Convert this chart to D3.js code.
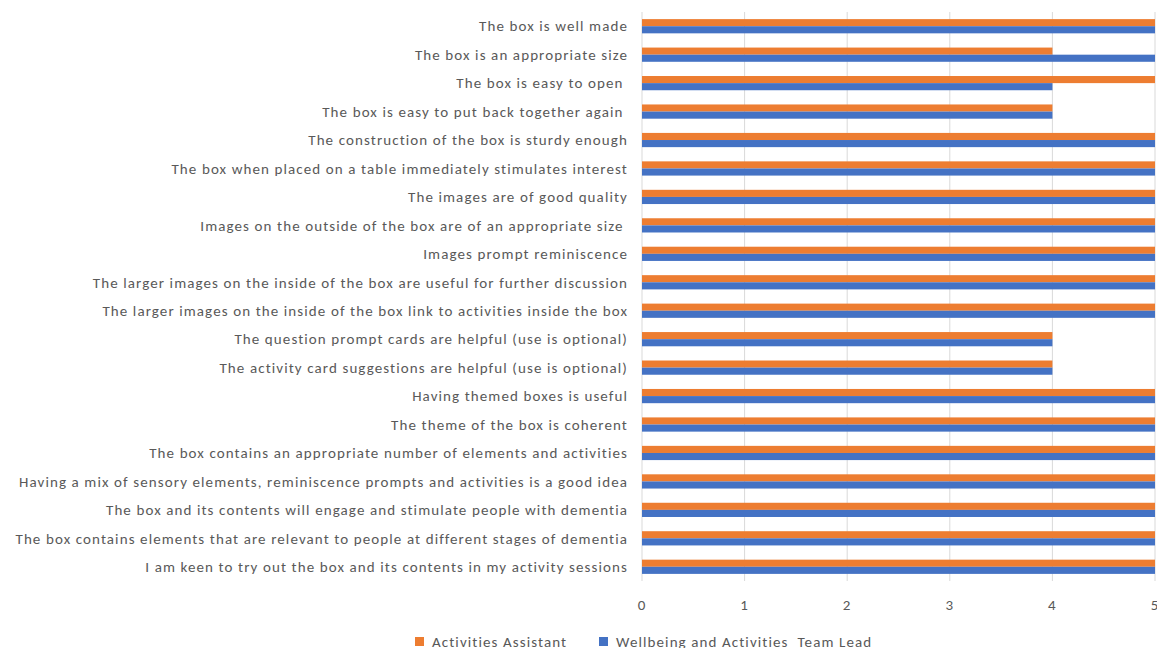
<!DOCTYPE html>
<html>
<head>
<meta charset="utf-8">
<script src="https://cdn.jsdelivr.net/npm/d3@7"></script>
<style>
  html, body { margin: 0; padding: 0; background: #fff; }
  svg { display: block; }
  text { font-family: Carlito, Lato, "Liberation Sans", sans-serif; fill: #595959; }
  .lbl { font-size: 15px; letter-spacing: 1.1px; }
</style>
</head>
<body>
<svg id="chart" width="1157" height="648"></svg>
<script>
// Survey statements, top to bottom
const categories = [
  "The box is well made",
  "The box is an appropriate size",
  "The box is easy to open ",
  "The box is easy to put back together again ",
  "The construction of the box is sturdy enough",
  "The box when placed on a table immediately stimulates interest",
  "The images are of good quality",
  "Images on the outside of the box are of an appropriate size ",
  "Images prompt reminiscence",
  "The larger images on the inside of the box are useful for further discussion",
  "The larger images on the inside of the box link to activities inside the box",
  "The question prompt cards are helpful (use is optional)",
  "The activity card suggestions are helpful (use is optional)",
  "Having themed boxes is useful",
  "The theme of the box is coherent",
  "The box contains an appropriate number of elements and activities",
  "Having a mix of sensory elements, reminiscence prompts and activities is a good idea",
  "The box and its contents will engage and stimulate people with dementia",
  "The box contains elements that are relevant to people at different stages of dementia",
  "I am keen to try out the box and its contents in my activity sessions"
];

const seriesNames = ["Activities Assistant", "Wellbeing and Activities  Team Lead"];
const assistantScores = [5, 4, 5, 4, 5, 5, 5, 5, 5, 5, 5, 4, 4, 5, 5, 5, 5, 5, 5, 5];
const teamLeadScores  = [5, 5, 4, 4, 5, 5, 5, 5, 5, 5, 5, 4, 4, 5, 5, 5, 5, 5, 5, 5];
const xTicks = [0, 1, 2, 3, 4, 5];
const colors = ["#ED7D31", "#4472C4"];

const svg = d3.select("#chart");
const plotLeft = 642, plotRight = 1155, plotTop = 12, plotBottom = 581;

const x = d3.scaleLinear().domain([0, 5]).range([plotLeft, plotRight]);
const y = d3.scaleBand().domain(categories).range([plotTop, plotBottom])
  .paddingInner(0.5).paddingOuter(0.25);
const ySub = d3.scaleBand().domain(seriesNames).range([0, y.bandwidth()]);

// vertical gridlines
svg.append("g").selectAll("line").data(xTicks).join("line")
  .attr("x1", d => x(d)).attr("x2", d => x(d))
  .attr("y1", plotTop).attr("y2", plotBottom)
  .attr("stroke", "#d9d9d9").attr("stroke-width", 1);

// bars
const rows = categories.map((c, i) => ({ c, vals: [assistantScores[i], teamLeadScores[i]] }));
const g = svg.append("g").selectAll("g").data(rows).join("g")
  .attr("transform", d => `translate(0,${y(d.c)})`);
g.selectAll("rect").data(d => d.vals.map((v, j) => ({ v, s: seriesNames[j], j }))).join("rect")
  .attr("x", x(0))
  .attr("y", d => ySub(d.s))
  .attr("width", d => x(d.v) - x(0))
  .attr("height", ySub.bandwidth())
  .attr("fill", d => colors[d.j]);

// category labels
svg.append("g").selectAll("text").data(categories).join("text")
  .attr("class", "lbl")
  .attr("x", 628)
  .attr("y", d => y(d) + y.bandwidth() / 2)
  .attr("dy", "0.35em")
  .attr("text-anchor", "end")
  .style("white-space", "pre")
  .text(d => d);

// x tick labels
svg.append("g").selectAll("text").data(xTicks).join("text")
  .attr("class", "lbl")
  .attr("x", d => x(d))
  .attr("y", 605)
  .attr("dy", "0.35em")
  .attr("text-anchor", "middle")
  .text(d => d);

// legend
const legendX = [415, 599];
const lg = svg.append("g").selectAll("g").data(seriesNames).join("g")
  .attr("transform", (d, i) => `translate(${legendX[i]},642)`);
lg.append("rect").attr("x", 0).attr("y", -5).attr("width", 9).attr("height", 9)
  .attr("fill", (d, i) => colors[i]);
lg.append("text").attr("class", "lbl").attr("x", 17).attr("y", 0).attr("dy", "0.35em")
  .style("white-space", "pre")
  .text(d => d);
</script>
</body>
</html>
